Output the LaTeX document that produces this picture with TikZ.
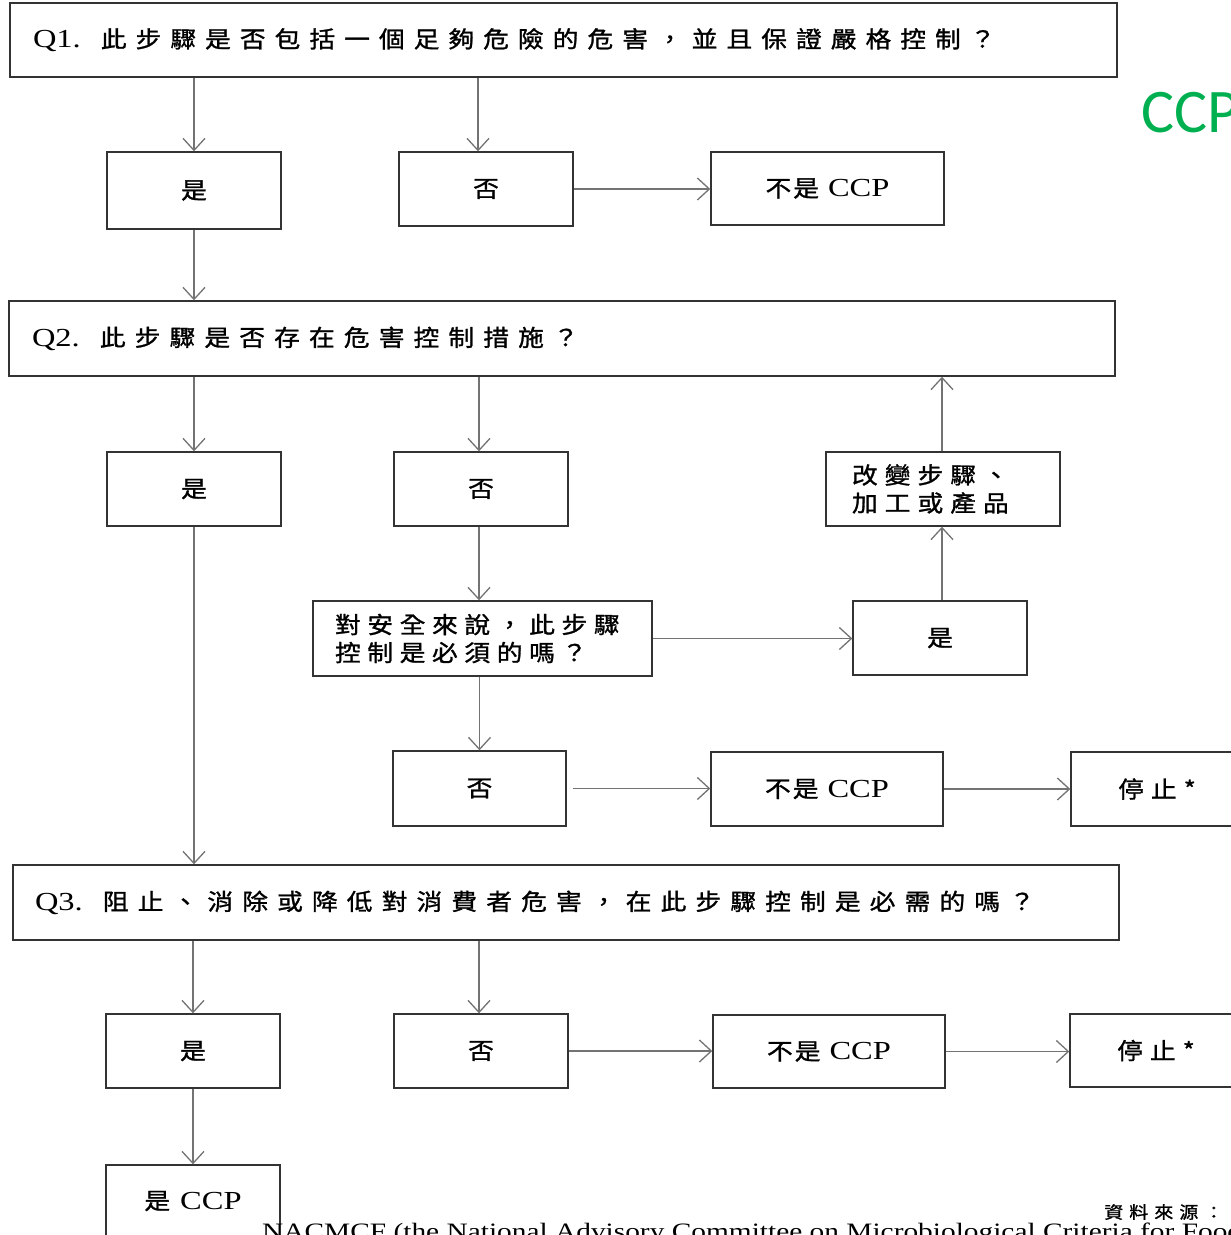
\documentclass[tikz,border=0pt]{standalone}
\usepackage{fontspec}
\usetikzlibrary{arrows.meta}
\newfontfamily\latin{Liberation Serif}[FakeStretch=1.25]
\newfontfamily\cjk{Noto Sans CJK TC}[FakeStretch=1.12,FakeBold=1.2]
\newfontfamily\greenfont{Carlito}
\definecolor{ccpgreen}{RGB}{0,176,80}

% CJK text with extra space between the characters
\makeatletter
\newcommand\zh[2][7.5pt]{{\cjk\def\zh@gap{\hspace{#1}}\zh@first#2\@nil}}
\def\zh@first#1{#1\zh@next}
\def\zh@next#1{\ifx#1\@nil\else\zh@gap#1\expandafter\zh@next\fi}
\makeatother
\newcommand\lat[1]{{\latin\fontsize{26}{28}\selectfont #1}}

\tikzset{
  box/.style={draw=black!80, line width=1.4pt, inner sep=0pt, fill=white,
    font=\fontsize{23}{28}\selectfont},
  qbox/.style={box, align=left, inner xsep=23pt},
  flow/.style={draw=black!55, line width=1.3pt,
    -{Straight Barb[length=12pt,width=22pt,line width=1.3pt]}},
}

\begin{document}
\begin{tikzpicture}[x=1pt,y=-1pt]
\useasboundingbox (0,0) rectangle (1231,1235);
\clip (0,0) rectangle (1231,1235);

% question 1
\node[qbox, minimum width=1107pt, minimum height=74pt, text width=1061pt] (q1) at (563.5,40)
  {\lat{Q1.}\hspace{20pt}\zh[9pt]{此步驟是否包括一個足夠危險的危害，並且保證嚴格控制？}};
\node[box, minimum width=174pt, minimum height=77pt] (y1) at (194,190.5) {\zh{是}};
\node[box, minimum width=174pt, minimum height=74pt] (n1) at (486,189) {\zh{否}};
\node[box, minimum width=233pt, minimum height=73pt] (c1) at (827.5,188.5) {\zh[2pt]{不是}\hspace{9pt}\lat{CCP}};

% question 2
\node[qbox, minimum width=1106pt, minimum height=75pt, text width=1060pt] (q2) at (562,338.5)
  {\lat{Q2.}\hspace{20pt}\zh[9.1pt]{此步驟是否存在危害控制措施？}};
\node[box, minimum width=174pt, minimum height=74pt] (y2) at (194,489) {\zh{是}};
\node[box, minimum width=174pt, minimum height=74pt] (n2) at (481,489) {\zh{否}};
\node[box, align=left, inner xsep=26pt, text width=182pt, minimum width=234pt, minimum height=74pt] (mod) at (943,489)
  {\zh[7pt]{改變步驟、}\\\zh[7pt]{加工或產品}};
\node[box, align=left, inner xsep=22pt, text width=295pt, minimum width=339pt, minimum height=75pt] (safe) at (482.5,638.5)
  {\zh[6.6pt]{對安全來說，此步驟}\\\zh[6.6pt]{控制是必須的嗎？}};
\node[box, minimum width=174pt, minimum height=74pt] (y3) at (940,638) {\zh{是}};
\node[box, minimum width=173pt, minimum height=75pt] (n3) at (479.5,788.5) {\zh{否}};
\node[box, minimum width=232pt, minimum height=74pt] (c2) at (827,789) {\zh[2pt]{不是}\hspace{9pt}\lat{CCP}};
\node[box, minimum width=172pt, minimum height=74pt] (s1) at (1157,789) {\zh[7pt]{停止*}};

% question 3
\node[qbox, minimum width=1106pt, minimum height=75pt, text width=1062pt, inner xsep=22pt] (q3) at (566,902.5)
  {\lat{Q3.}\hspace{20pt}\zh[9.1pt]{阻止、消除或降低對消費者危害，在此步驟控制是必需的嗎？}};
\node[box, minimum width=174pt, minimum height=74pt] (y4) at (193,1051) {\zh{是}};
\node[box, minimum width=174pt, minimum height=74pt] (n4) at (481,1051) {\zh{否}};
\node[box, minimum width=232pt, minimum height=73pt] (c3) at (829,1051.5) {\zh[2pt]{不是}\hspace{9pt}\lat{CCP}};
\node[box, minimum width=172pt, minimum height=73pt] (s2) at (1156,1050.5) {\zh[7pt]{停止*}};
\node[box, minimum width=174pt, minimum height=72pt] (ccp) at (193,1201) {\zh{是}\hspace{10pt}\lat{CCP}};

% connectors
\draw[flow] (y1.north |- q1.south) -- (y1.north);
\draw[flow] ([xshift=-8pt]n1.north |- q1.south) -- ([xshift=-8pt]n1.north);
\draw[flow] (n1.east) -- (n1.east -| c1.west);
\draw[flow] (y1.south) -- (y1.south |- q2.north);
\draw[flow] (y2.north |- q2.south) -- (y2.north);
\draw[flow] ([xshift=-2pt]n2.north |- q2.south) -- ([xshift=-2pt]n2.north);
\draw[flow] ([xshift=-1pt]mod.north) -- ([xshift=-1pt]mod.north |- q2.south);
\draw[flow] ([xshift=-2pt]n2.south) -- ([xshift=-2pt]n2.south |- safe.north);
\draw[flow] (safe.east) -- (safe.east -| y3.west);
\draw[flow] ([xshift=2pt]y3.north) -- ([xshift=2pt]y3.north |- mod.south);
\draw[flow] (n3.north |- safe.south) -- (n3.north);
\draw[flow] ([xshift=6pt]n3.east) -- (n3.east -| c2.west);
\draw[flow] (c2.east) -- (c2.east -| s1.west);
\draw[flow] (y2.south) -- (y2.south |- q3.north);
\draw[flow] (y4.north |- q3.south) -- (y4.north);
\draw[flow] ([xshift=-2pt]n4.north |- q3.south) -- ([xshift=-2pt]n4.north);
\draw[flow] (n4.east) -- (n4.east -| c3.west);
\draw[flow] (c3.east) -- (c3.east -| s2.west);
\draw[flow] (y4.south) -- (ccp.north);

% side label and source note
\node[anchor=base west, inner sep=0pt, text=ccpgreen, font=\greenfont\fontsize{62}{62}\selectfont] (side) at (1141,132) {CCP};
\node[anchor=west, inner sep=0pt, font=\fontsize{17}{18}\selectfont] (src) at (1104,1212) {\zh[6pt]{資料來源：}};
\node[anchor=base west, inner sep=0pt, font=\latin\fontsize{23.5}{24}\selectfont] (ref) at (262,1239)
  {NACMCF (the National Advisory Committee on Microbiological Criteria for Foods};
\end{tikzpicture}
\end{document}
